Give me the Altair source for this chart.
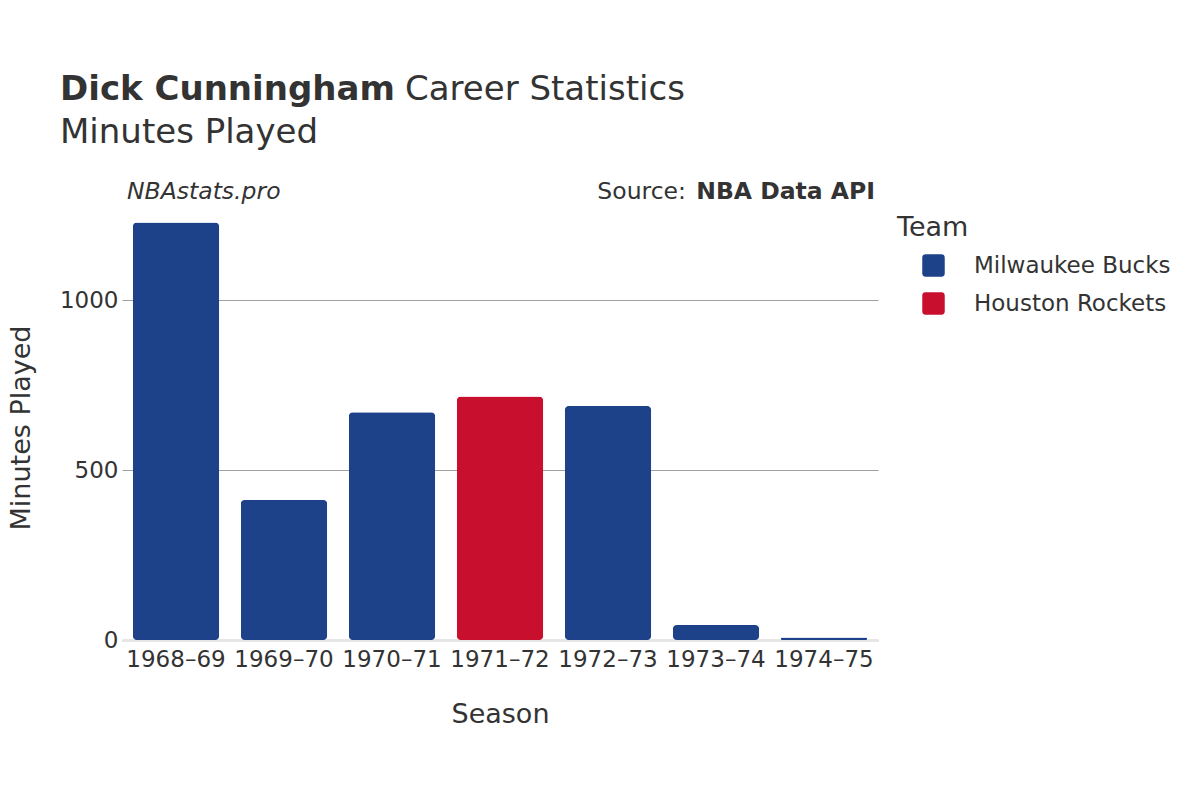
import altair as alt
import pandas as pd

seasons = ["1968–69", "1969–70", "1970–71", "1971–72", "1972–73", "1973–74", "1974–75"]
teams = ["Milwaukee Bucks", "Milwaukee Bucks", "Milwaukee Bucks", "Houston Rockets",
         "Milwaukee Bucks", "Milwaukee Bucks", "Milwaukee Bucks"]
minutes = [1228, 412, 670, 716, 688, 44, 7]

team_order = ["Milwaukee Bucks", "Houston Rockets"]
team_colors = ["#1D428A", "#C8102E"]

df = pd.DataFrame({"Season": seasons, "Team": teams, "Minutes": minutes})

FONT = "DejaVu Sans"
TXT = "#333333"

rounded_square = ("M-0.7,-1 L0.7,-1 Q1,-1 1,-0.7 L1,0.7 Q1,1 0.7,1 L-0.7,1 "
                  "Q-1,1 -1,0.7 L-1,-0.7 Q-1,-1 -0.7,-1 Z")

bars = alt.Chart(df).mark_bar(cornerRadius=4).encode(
    x=alt.X("Season:N", sort=seasons, title="Season",
            scale=alt.Scale(paddingInner=0.2, paddingOuter=0.1),
            axis=alt.Axis(labelAngle=0, labelFontSize=23, labelPadding=8,
                          titleFontSize=27, titlePadding=30, ticks=False,
                          domainColor="#e6e6e6", domainWidth=3, grid=False)),
    y=alt.Y("Minutes:Q", title="Minutes Played",
            scale=alt.Scale(domain=[0, 1250], nice=False),
            axis=alt.Axis(values=[0, 500, 1000], format="d", labelFontSize=23,
                          labelPadding=4, titleFontSize=27, titlePadding=24,
                          ticks=False, domain=False,
                          gridColor="#a0a0a0", gridWidth=1)),
    color=alt.Color("Team:N", sort=team_order,
                    scale=alt.Scale(domain=team_order, range=team_colors),
                    legend=alt.Legend(title="Team", orient="right", offset=19,
                                      titleFontSize=27, labelFontSize=23,
                                      titlePadding=12, rowPadding=14,
                                      labelLimit=400,
                                      symbolType=rounded_square, symbolSize=506,
                                      symbolOffset=25, labelOffset=29,
                                      symbolStrokeWidth=0, padding=0)),
)

title_bold = alt.Chart(pd.DataFrame({"t": ["Dick Cunningham"]})).mark_text(
    align="left", baseline="alphabetic", fontSize=34, fontWeight="bold",
    font=FONT, color=TXT).encode(x=alt.value(-62), y=alt.value(-115), text="t:N")
title_rest = alt.Chart(pd.DataFrame({"t": ["Career Statistics"]})).mark_text(
    align="left", baseline="alphabetic", fontSize=34,
    font=FONT, color=TXT).encode(x=alt.value(283), y=alt.value(-115), text="t:N")
subtitle = alt.Chart(pd.DataFrame({"t": ["Minutes Played"]})).mark_text(
    align="left", baseline="alphabetic", fontSize=34,
    font=FONT, color=TXT).encode(x=alt.value(-62), y=alt.value(-72), text="t:N")
site = alt.Chart(pd.DataFrame({"t": ["NBAstats.pro"]})).mark_text(
    align="left", baseline="alphabetic", fontSize=23.5, fontStyle="italic",
    font=FONT, color=TXT).encode(x=alt.value(5), y=alt.value(-16), text="t:N")
src_bold = alt.Chart(pd.DataFrame({"t": ["NBA Data API"]})).mark_text(
    align="right", baseline="alphabetic", fontSize=23.5, fontWeight="bold",
    font=FONT, color=TXT).encode(x=alt.value(753), y=alt.value(-16), text="t:N")
src_rest = alt.Chart(pd.DataFrame({"t": ["Source:"]})).mark_text(
    align="right", baseline="alphabetic", fontSize=23.5,
    font=FONT, color=TXT).encode(x=alt.value(564), y=alt.value(-16), text="t:N")

chart = alt.layer(bars, title_bold, title_rest, subtitle, site, src_bold, src_rest).properties(
    width=756, height=425,
    padding={"left": 114, "top": 207, "right": 300, "bottom": 140},
    autosize=alt.AutoSizeParams(type="none"),
).configure_view(stroke=None).configure_axis(
    labelFont=FONT, titleFont=FONT, labelColor=TXT, titleColor=TXT,
    titleFontWeight="normal"
).configure_legend(
    labelFont=FONT, titleFont=FONT, labelColor=TXT, titleColor=TXT,
    titleFontWeight="normal"
)

chart.save("out.html", embed_options={"renderer": "svg", "actions": False})
